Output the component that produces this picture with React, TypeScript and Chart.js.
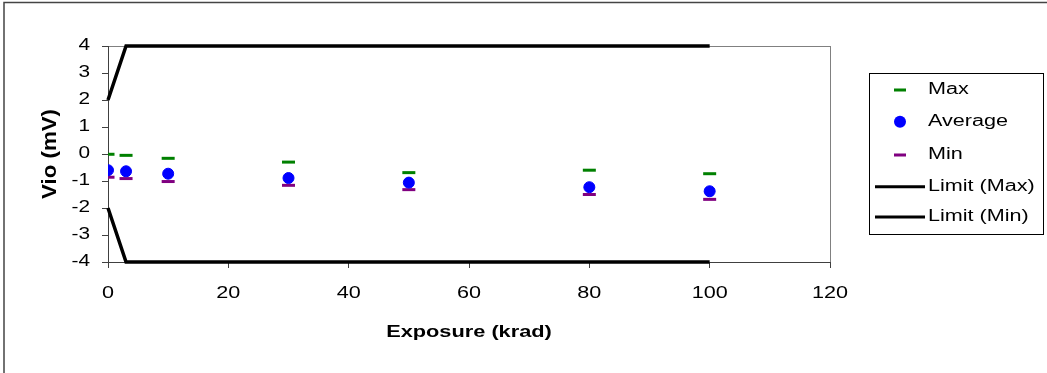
import React, { useEffect, useRef } from "react";
import { Chart, registerables } from "chart.js";

Chart.register(...registerables);

const exposure = [0, 3, 10, 30, 50, 80, 100];
const maxValues = [-0.01, -0.05, -0.16, -0.3, -0.69, -0.6, -0.73];
const avgValues = [-0.6, -0.64, -0.73, -0.89, -1.06, -1.23, -1.38];
const minValues = [-0.86, -0.91, -1.02, -1.16, -1.32, -1.5, -1.68];
const limitX = [0, 3, 100];
const limitMax = [2, 4, 4];
const limitMin = [-2, -4, -4];
const xTicks = [0, 20, 40, 60, 80, 100, 120];
const yTicks = [-4, -3, -2, -1, 0, 1, 2, 3, 4];
const xTitle = "Exposure (krad)";
const yTitle = "Vio (mV)";

const FONT = "'Liberation Sans', Arial, sans-serif";

const toPts = (xs: number[], ys: number[]) => xs.map((x, i) => ({ x, y: ys[i] }));

function drawText(
  ctx: CanvasRenderingContext2D,
  text: string,
  x: number,
  y: number,
  o: { size: number; bold?: boolean; sx?: number; align?: CanvasTextAlign; rotate?: number }
) {
  ctx.save();
  ctx.translate(x, y);
  if (o.rotate) ctx.rotate(o.rotate);
  ctx.scale(o.sx ?? 1, 1);
  ctx.font = `${o.bold ? "bold " : ""}${o.size}px ${FONT}`;
  ctx.textAlign = o.align ?? "center";
  ctx.textBaseline = "middle";
  ctx.fillStyle = "#000";
  ctx.fillText(text, 0, 0);
  ctx.restore();
}

const framePlugin = {
  id: "frame",
  beforeDraw(chart: any) {
    const { ctx, chartArea } = chart;
    ctx.save();
    ctx.fillStyle = "#fff";
    ctx.fillRect(0, 0, chart.width, chart.height);
    ctx.strokeStyle = "#444";
    ctx.lineWidth = 1.5;
    ctx.beginPath();
    ctx.moveTo(4, chart.height + 5);
    ctx.lineTo(4, 2.5);
    ctx.lineTo(chart.width + 5, 2.5);
    ctx.stroke();
    ctx.strokeStyle = "#808080";
    ctx.lineWidth = 1;
    ctx.strokeRect(
      Math.round(chartArea.left) + 0.5,
      Math.round(chartArea.top) + 0.5,
      Math.round(chartArea.right - chartArea.left),
      Math.round(chartArea.bottom - chartArea.top)
    );
    ctx.restore();
  },
  afterDraw(chart: any) {
    const { ctx } = chart;
    const xs = chart.scales.x;
    const ys = chart.scales.y;
    // tick labels
    xTicks.forEach((v) => {
      drawText(ctx, String(v), xs.getPixelForValue(v), 294, { size: 16, sx: 1.35 });
    });
    yTicks.forEach((v) => {
      drawText(ctx, String(v), 90, ys.getPixelForValue(v), { size: 16, sx: 1.3, align: "right" });
    });
    // axis titles
    drawText(ctx, xTitle, (xs.left + xs.right) / 2, 332, { size: 17, bold: true, sx: 1.28 });
    drawText(ctx, yTitle, 50, (ys.top + ys.bottom) / 2, { size: 21, bold: true, sx: 1.06, rotate: -Math.PI / 2 });
    // legend
    const bx = 869, by = 73, bw = 174, bh = 161;
    ctx.save();
    ctx.fillStyle = "#fff";
    ctx.fillRect(bx, by, bw, bh);
    ctx.strokeStyle = "#000";
    ctx.lineWidth = 1;
    ctx.strokeRect(bx + 0.5, by + 0.5, bw, bh);
    const rows = [90, 121.7, 155, 186.7, 217];
    chart.data.datasets.forEach((ds: any, i: number) => {
      const y = rows[i];
      if (ds.showLine) {
        ctx.strokeStyle = ds.borderColor;
        ctx.lineWidth = 3;
        ctx.beginPath();
        ctx.moveTo(875, y);
        ctx.lineTo(925, y);
        ctx.stroke();
      } else if (ds.pointStyle === "circle") {
        ctx.fillStyle = ds.pointBackgroundColor;
        ctx.beginPath();
        ctx.arc(900, y, 6, 0, Math.PI * 2);
        ctx.fill();
      } else {
        ctx.fillStyle = ds.pointBorderColor;
        ctx.fillRect(894, y - 1.5, 12, 3);
      }
      drawText(ctx, ds.label, 928, y, { size: 16, sx: 1.35, align: "left" });
    });
    ctx.restore();
  },
};

export default function App() {
  const ref = useRef<HTMLCanvasElement | null>(null);
  useEffect(() => {
    document.body.style.margin = "0";
    const canvas = ref.current!;
    const hidden = { color: "rgba(0,0,0,0)", font: { family: FONT, size: 15 }, padding: 12 };
    const chart = new Chart(canvas, {
      type: "scatter",
      data: {
        datasets: [
          {
            label: "Max",
            data: toPts(exposure, maxValues),
            pointStyle: "line",
            pointRadius: 6.5,
            pointBorderWidth: 3,
            pointBorderColor: "#008000",
            pointBackgroundColor: "#008000",
            showLine: false,
          },
          {
            label: "Average",
            data: toPts(exposure, avgValues),
            pointStyle: "circle",
            pointRadius: 5.5,
            pointBorderWidth: 1,
            pointBorderColor: "#0000ff",
            pointBackgroundColor: "#0000ff",
            showLine: false,
          },
          {
            label: "Min",
            data: toPts(exposure, minValues),
            pointStyle: "line",
            pointRadius: 6.5,
            pointBorderWidth: 3,
            pointBorderColor: "#800080",
            pointBackgroundColor: "#800080",
            showLine: false,
          },
          {
            label: "Limit (Max)",
            data: toPts(limitX, limitMax),
            showLine: true,
            borderColor: "#000",
            borderWidth: 3.5,
            pointRadius: 0,
            clip: false as any,
          },
          {
            label: "Limit (Min)",
            data: toPts(limitX, limitMin),
            showLine: true,
            borderColor: "#000",
            borderWidth: 3.5,
            pointRadius: 0,
            clip: false as any,
          },
        ],
      },
      options: {
        animation: false,
        responsive: false,
        devicePixelRatio: 1,
        layout: { padding: { left: 30, right: 217, top: 46, bottom: 10 } },
        plugins: { legend: { display: false }, tooltip: { enabled: false } },
        scales: {
          x: {
            type: "linear",
            min: 0,
            max: 120,
            afterFit: (s: any) => { s.height = 101; },
            afterBuildTicks: (s: any) => { s.ticks = xTicks.map((v) => ({ value: v })); },
            ticks: hidden,
            grid: { drawOnChartArea: false, drawTicks: true, tickLength: 6, color: "#404040" },
            border: { display: true, color: "#404040", width: 1 },
          },
          y: {
            type: "linear",
            min: -4,
            max: 4,
            afterFit: (s: any) => { s.width = 78; },
            afterBuildTicks: (s: any) => { s.ticks = yTicks.map((v) => ({ value: v })); },
            ticks: hidden,
            grid: { drawOnChartArea: false, drawTicks: true, tickLength: 6, color: "#404040" },
            border: { display: true, color: "#404040", width: 1 },
          },
        },
      },
      plugins: [framePlugin],
    });
    return () => chart.destroy();
  }, []);
  return <canvas ref={ref} width={1047} height={373} style={{ display: "block" }} />;
}
